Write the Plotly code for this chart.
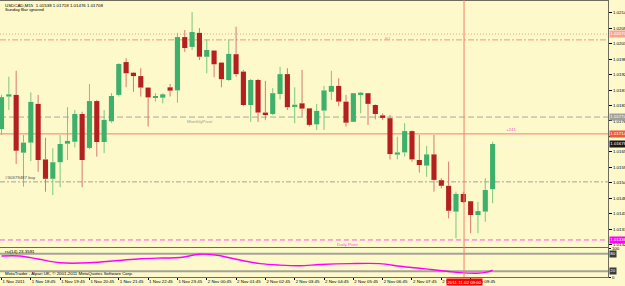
import plotly.graph_objects as go

# ---------------- data ----------------
title_text = "USDCAD,M15  1.01538 1.01718 1.01476 1.01708"
sub_text = "Sunday Bar ignored"

open_ = [1.01731, 1.01847, 1.01853, 1.01647, 1.01683, 1.01821, 1.01623, 1.01554, 1.01613, 1.01679,
         1.01686, 1.01785, 1.01664, 1.01831, 1.01685, 1.01759, 1.01853, 1.01970, 1.01932, 1.01920,
         1.01879, 1.01843, 1.01843, 1.01880, 1.01869, 1.02059, 1.02024, 1.02074, 1.01989, 1.02011,
         1.01968, 1.01906, 1.01998, 1.01936, 1.01817, 1.01906, 1.01790, 1.01785, 1.01856, 1.01927,
         1.01813, 1.01823, 1.01805, 1.01748, 1.01797, 1.01864, 1.01885, 1.01829, 1.01757, 1.01854,
         1.01859, 1.01817, 1.01780, 1.01770, 1.01640, 1.01648, 1.01724, 1.01621, 1.01601, 1.01641,
         1.01549, 1.01529, 1.01437, 1.01500, 1.01474, 1.01425, 1.01437, 1.01517]
high = [1.01853, 1.01918, 1.01939, 1.01710, 1.01862, 1.01853, 1.01700, 1.01663, 1.01710, 1.01809,
        1.01799, 1.01793, 1.01892, 1.01835, 1.01799, 1.01859, 1.01966, 1.01984, 1.01935, 1.01948,
        1.01881, 1.01859, 1.01859, 1.01892, 1.02074, 1.02084, 1.02148, 1.02091, 1.02049, 1.02013,
        1.01970, 1.02049, 1.02096, 1.01942, 1.01910, 1.01910, 1.01903, 1.01877, 1.01953, 1.01948,
        1.01880, 1.01942, 1.01806, 1.01821, 1.01885, 1.01939, 1.01912, 1.01853, 1.01860, 1.01864,
        1.01860, 1.01819, 1.01787, 1.01781, 1.01704, 1.01752, 1.01726, 1.01710, 1.01671, 1.01710,
        1.01556, 1.01615, 1.01508, 1.01508, 1.01475, 1.01472, 1.01556, 1.01686]
low = [1.01710, 1.01799, 1.01607, 1.01526, 1.01617, 1.01579, 1.01508, 1.01496, 1.01524, 1.01621,
       1.01666, 1.01524, 1.01660, 1.01633, 1.01645, 1.01753, 1.01847, 1.01880, 1.01864, 1.01847,
       1.01740, 1.01829, 1.01823, 1.01847, 1.01825, 1.02006, 1.02013, 1.01977, 1.01930, 1.01916,
       1.01880, 1.01903, 1.01918, 1.01813, 1.01757, 1.01757, 1.01764, 1.01781, 1.01837, 1.01799,
       1.01752, 1.01775, 1.01740, 1.01728, 1.01728, 1.01835, 1.01813, 1.01740, 1.01756, 1.01787,
       1.01746, 1.01766, 1.01764, 1.01623, 1.01623, 1.01633, 1.01615, 1.01576, 1.01561, 1.01508,
       1.01520, 1.01413, 1.01342, 1.01467, 1.01360, 1.01360, 1.01401, 1.01467]
close = [1.01845, 1.01855, 1.01654, 1.01683, 1.01828, 1.01621, 1.01554, 1.01613, 1.01678, 1.01689,
         1.01785, 1.01621, 1.01831, 1.01685, 1.01764, 1.01849, 1.01963, 1.01930, 1.01920, 1.01879,
         1.01844, 1.01849, 1.01855, 1.01868, 1.02059, 1.02020, 1.02077, 1.01989, 1.02013, 1.01962,
         1.01909, 1.01999, 1.01927, 1.01817, 1.01906, 1.01790, 1.01781, 1.01859, 1.01927, 1.01809,
         1.01818, 1.01804, 1.01746, 1.01796, 1.01869, 1.01885, 1.01829, 1.01754, 1.01859, 1.01861,
         1.01821, 1.01785, 1.01771, 1.01642, 1.01648, 1.01724, 1.01623, 1.01603, 1.01641, 1.01550,
         1.01529, 1.01440, 1.01500, 1.01471, 1.01425, 1.01439, 1.01514, 1.01678]

time_tick_bars = [0, 4, 8, 12, 16, 20, 24, 28, 32, 36, 40, 44, 48, 52, 56, 60, 64]
time_tick_labels = ["1 Nov 2011", "1 Nov 18:45", "1 Nov 19:45", "1 Nov 20:45", "1 Nov 21:45",
                    "1 Nov 22:45", "1 Nov 23:45", "2 Nov 00:45", "2 Nov 01:45", "2 Nov 02:45",
                    "2 Nov 03:45", "2 Nov 04:45", "2 Nov 05:45", "2 Nov 06:45", "2 Nov 07:45",
                    "2 Nov 08:45", "2 Nov 09:45"]

price_ticks = [1.01320, 1.01375, 1.01430, 1.01485, 1.01540, 1.01595, 1.01650, 1.01705,
               1.01760, 1.01815, 1.01870, 1.01925, 1.01980, 1.02035, 1.02090, 1.02145]
price_range = [1.013109, 1.021876]

rsi_bars = [0, 2.5, 5, 8, 12, 16, 19, 22, 24.4, 27, 29.4, 32, 35.3, 38, 40.7, 43.5, 47.5, 51.6,
            54.4, 57, 58.9, 61, 62.5, 64.9, 66.2, 67]
rsi_vals = [72.5, 72.5, 62, 49, 49, 57, 63, 65.5, 67, 78.6, 75, 61, 46, 41, 39, 43, 46, 46,
            37, 30, 25, 19, 15, 13, 17, 23.36]
rsi_levels = [80, 20]
rsi_label = "rsi(14) 23.3591"

r1_level = 1.02070
r1_dashdot = 1.02049
monthly_pivot = 1.01774
cross_price = 1.01714
order_level = 1.01543
daily_pivot = 1.01336
cross_bar = 63.1
cross_time = "2011.11.02 09:00"
order_text = "#30379487 buy"
copyright_text = "MetaTrader - Alpari UK, © 2001-2011 MetaQuotes Software Corp."

# ---------------- styling ----------------
BG = "#FDF9CB"
FRAME = "#6E6C5C"
FONT = "Liberation Sans"
FS = 4.4
X_RANGE = [-0.205, 82.74]
X_DOM = [0, 608 / 625]
Y_DOM = [1 - 247 / 286, 1 - 1 / 286]
Y2_DOM = [1 - 277 / 286, 1 - 248 / 286]

n = len(close)
bars = list(range(n))
up = [c >= o for o, c in zip(open_, close)]
body_lo = [min(o, c) for o, c in zip(open_, close)]
body_h = [max(abs(c - o), 0.00004) for o, c in zip(open_, close)]
body_col = ["#3DB06C" if u else "#B3201F" for u in up]


def wicks(flag):
    xs, ys = [], []
    for i in range(n):
        if up[i] != flag:
            continue
        top = max(open_[i], close[i])
        bot = min(open_[i], close[i])
        xs += [i, i, None, i, i, None]
        ys += [high[i], top, None, bot, low[i], None]
    return xs, ys


fig = go.Figure()
for flag, col in [(True, "#7CC77C"), (False, "#D57A72")]:
    wx, wy = wicks(flag)
    fig.add_trace(go.Scatter(x=wx, y=wy, mode="lines", line=dict(color=col, width=1),
                             hoverinfo="skip", showlegend=False, xaxis="x", yaxis="y"))
fig.add_trace(go.Bar(x=bars, y=body_h, base=body_lo, width=0.7,
                     marker=dict(color=body_col, line=dict(width=0)),
                     showlegend=False, xaxis="x", yaxis="y"))
fig.add_trace(go.Scatter(x=rsi_bars, y=rsi_vals, mode="lines",
                         line=dict(color="#FF00FF", width=1.4, shape="spline"),
                         showlegend=False, xaxis="x2", yaxis="y2"))

shapes = []


def hline(y, color, dash, width=1):
    shapes.append(dict(type="line", xref="x domain", yref="y", x0=0, x1=1, y0=y, y1=y,
                       line=dict(color=color, width=width, dash=dash), layer="below"))


hline(r1_level, "#F6A48E", "1px,2px")
hline(r1_dashdot, "#F39A78", "6px,2px,2px,2px")
hline(monthly_pivot, "#A8A8A0", "6px,3px")
hline(order_level, "#A3A39A", "5px,2px,2px,2px")
hline(daily_pivot, "#FF50FF", "5px,3px")
hline(cross_price, "#F2806C", "solid")
# bid line
shapes.append(dict(type="line", xref="x", yref="y", x0=cross_bar, x1=X_RANGE[1],
                   y0=close[-1], y1=close[-1], line=dict(color="#FFFFFF", width=1, dash="1px,3px"),
                   layer="below"))
for lv in rsi_levels:
    shapes.append(dict(type="line", xref="x2 domain", yref="y2", x0=0, x1=1, y0=lv, y1=lv,
                       line=dict(color="#A3A396", width=2), layer="below"))
# crosshair vertical line
shapes.append(dict(type="line", xref="x", yref="paper", x0=cross_bar, x1=cross_bar,
                   y0=Y2_DOM[0], y1=1, line=dict(color="#F2806C", width=1)))

ann = []


def txt(x, y, s, color="#000000", xref="x", yref="y", xanchor="left", yanchor="middle", **kw):
    ann.append(dict(x=x, y=y, xref=xref, yref=yref, text=s, showarrow=False, xanchor=xanchor,
                    yanchor=yanchor, font=dict(family=FONT, size=FS, color=color), **kw))


txt(0.004, 1 - 5 / 286, title_text, xref="paper", yref="paper")
txt(0.004, 1 - 9.5 / 286, sub_text, xref="paper", yref="paper")
txt(52.0, r1_level, "R1", color="#F4A090", yanchor="top")
txt(25.0, monthly_pivot, "MonthlyPivot", color="#A0A098", yanchor="top")
txt(0.2, order_level, order_text, color="#505050", yanchor="bottom")
txt(45.5, daily_pivot, "Daily Pivot", color="#FF40FF", yanchor="top")
txt(68.6, cross_price, "+241", color="#E860D0", yanchor="bottom")
txt(0.004, 1 - 251.5 / 286, rsi_label, xref="paper", yref="paper")
txt(0.004, 1 - 273.5 / 286, copyright_text, xref="paper", yref="paper")

# axis price boxes (they cover the tick labels underneath, as on the terminal)
for yv, bg, fg in [(r1_level, "#F7A58F", "#FFFFFF"), (monthly_pivot, "#A0A0A0", "#FFFFFF"),
                   (cross_price, "#F05A3C", "#FFFFFF"), (close[-1], "#1A1A1A", "#FFFFFF"),
                   (daily_pivot, "#FF00FF", "#FFFFFF")]:
    ann.append(dict(x=X_DOM[1], y=yv, xref="paper", yref="y", text=f"{yv:.5f}", showarrow=False,
                    xanchor="left", yanchor="middle", xshift=1, bgcolor=bg, borderpad=0.3,
                    font=dict(family=FONT, size=FS, color=fg)))
for lv in rsi_levels:
    ann.append(dict(x=X_DOM[1], y=lv, xref="paper", yref="y2", text=str(lv), showarrow=False,
                    xanchor="left", yanchor="middle", xshift=1, bgcolor="#3A3A3A", borderpad=0.3,
                    font=dict(family=FONT, size=FS, color="#FFFFFF")))
# crosshair time box
ann.append(dict(x=cross_bar, y=1 - 282 / 286, xref="x", yref="paper", text=cross_time,
                showarrow=False, xanchor="center", yanchor="middle", bgcolor="#FF0000",
                borderpad=0.6, font=dict(family=FONT, size=FS, color="#FFFFFF")))

# hide tick texts that sit fully under an axis box
box_vals = [r1_level, monthly_pivot, cross_price, close[-1], daily_pivot]
px_per_price = 246 / (price_range[1] - price_range[0])
tick_text = []
for p in price_ticks:
    hidden = any(abs(p - b) * px_per_price < 3.2 for b in box_vals)
    tick_text.append("" if hidden else f"{p:.5f}")

fig.update_layout(
    width=625, height=286, margin=dict(l=0, r=0, t=0, b=0, autoexpand=False),
    paper_bgcolor=BG, plot_bgcolor=BG, showlegend=False, barmode="overlay",
    font=dict(family=FONT, size=FS, color="#000000"),
    shapes=shapes, annotations=ann,
    xaxis=dict(domain=X_DOM, range=X_RANGE, anchor="y", showticklabels=False, ticks="",
               showgrid=False, zeroline=False, showline=True, mirror=True, automargin=False,
               linecolor=FRAME, linewidth=1),
    yaxis=dict(domain=Y_DOM, range=price_range, side="right", anchor="x", automargin=False,
               tickvals=price_ticks, ticktext=tick_text,
               ticks="outside", ticklen=3, tickcolor="#000000", tickwidth=1,
               tickfont=dict(family=FONT, size=FS, color="#000000"),
               showgrid=False, zeroline=False, showline=True, linecolor=FRAME, linewidth=1),
    xaxis2=dict(domain=X_DOM, range=X_RANGE, anchor="y2", matches="x", automargin=False,
                tickvals=time_tick_bars, ticktext=time_tick_labels, tickangle=0,
                ticklabelposition="outside right", ticks="outside", ticklen=2,
                tickcolor="#000000", tickfont=dict(family=FONT, size=FS, color="#000000"),
                showgrid=False, zeroline=False, showline=True, mirror=True,
                linecolor=FRAME, linewidth=1),
    yaxis2=dict(domain=Y2_DOM, range=[0, 100], side="right", anchor="x2", automargin=False,
                tickvals=[0, 100], ticktext=["0", "100"], ticks="outside", ticklen=2,
                tickcolor="#000000", tickfont=dict(family=FONT, size=FS, color="#000000"),
                showgrid=False, zeroline=False, showline=True, linecolor=FRAME, linewidth=1),
)

fig.write_html("out.html")
